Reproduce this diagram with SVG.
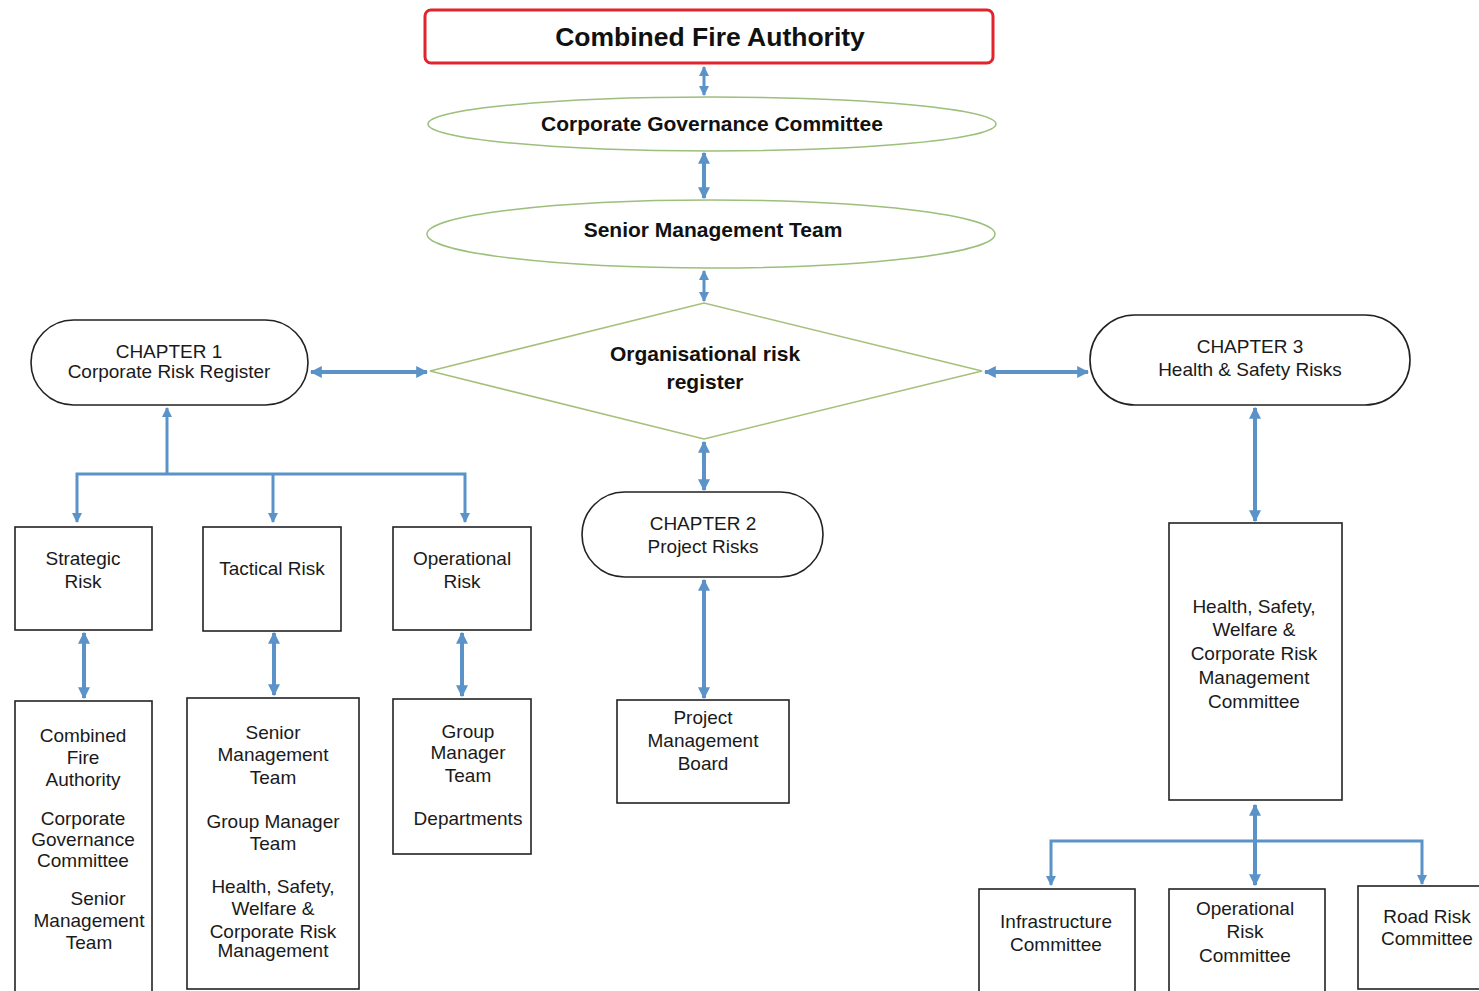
<svg xmlns="http://www.w3.org/2000/svg" width="1479" height="991" viewBox="0 0 1479 991">
<style>
.t{font-family:"Liberation Sans",Arial,sans-serif;font-size:19px;fill:#1a1a1a;text-anchor:middle}
.b{font-family:"Liberation Sans",Arial,sans-serif;font-weight:bold;font-size:21px;fill:#111;text-anchor:middle}
.box{fill:#fff;stroke:#222;stroke-width:1.6}
.oval{fill:#fff;stroke:#9dbf7c;stroke-width:1.5}
.c{fill:none;stroke:#5b93c9;stroke-width:3}
.ct{fill:none;stroke:#5b93c9;stroke-width:4}
</style>
<defs>
<marker id="ah" viewBox="0 0 10 10" refX="9" refY="5" markerUnits="userSpaceOnUse" markerWidth="12" markerHeight="12" orient="auto-start-reverse">
<path d="M0,0 L10,5 L0,10 z" fill="#5b93c9"/>
</marker>
<marker id="ahs" viewBox="0 0 10 10" refX="9" refY="5" markerUnits="userSpaceOnUse" markerWidth="10" markerHeight="11" orient="auto-start-reverse">
<path d="M0,0 L10,5 L0,10 z" fill="#5b93c9"/>
</marker>
</defs>
<rect width="1479" height="991" fill="#fff"/>

<g id="connectors">
<line class="c" x1="704" y1="67" x2="704" y2="95" marker-start="url(#ahs)" marker-end="url(#ahs)"/>
<line class="ct" x1="704" y1="153" x2="704" y2="198" marker-start="url(#ah)" marker-end="url(#ah)"/>
<line class="c" x1="704" y1="271" x2="704" y2="301" marker-start="url(#ahs)" marker-end="url(#ahs)"/>
<line class="ct" x1="311" y1="372" x2="427" y2="372" marker-start="url(#ah)" marker-end="url(#ah)"/>
<line class="ct" x1="985" y1="372" x2="1088" y2="372" marker-start="url(#ah)" marker-end="url(#ah)"/>
<line class="ct" x1="704" y1="442" x2="704" y2="490" marker-start="url(#ah)" marker-end="url(#ah)"/>
<line class="ct" x1="704" y1="580" x2="704" y2="698" marker-start="url(#ah)" marker-end="url(#ah)"/>
<line class="c" x1="167" y1="474" x2="167" y2="408" marker-end="url(#ahs)"/>
<path class="c" d="M77,522 V474 H465 V522" marker-start="url(#ahs)" marker-end="url(#ahs)"/>
<line class="c" x1="273" y1="474" x2="273" y2="522" marker-end="url(#ahs)"/>
<line class="ct" x1="84" y1="633" x2="84" y2="698" marker-start="url(#ah)" marker-end="url(#ah)"/>
<line class="ct" x1="274" y1="633" x2="274" y2="695" marker-start="url(#ah)" marker-end="url(#ah)"/>
<line class="ct" x1="462" y1="633" x2="462" y2="696" marker-start="url(#ah)" marker-end="url(#ah)"/>
<line class="ct" x1="1255" y1="408" x2="1255" y2="521" marker-start="url(#ah)" marker-end="url(#ah)"/>
<line class="ct" x1="1255" y1="805" x2="1255" y2="885" marker-start="url(#ah)" marker-end="url(#ah)"/>
<path class="c" d="M1051,885 V841 H1422 V884" marker-start="url(#ahs)" marker-end="url(#ahs)"/>
</g>

<g id="cfa">
<rect x="425" y="10" width="568" height="53" rx="6" fill="#fff" stroke="#e0232d" stroke-width="3"/>
<text class="b" x="710" y="46" style="font-size:26.5px">Combined Fire Authority</text>
</g>
<g id="cgc">
<ellipse class="oval" cx="712" cy="124" rx="284" ry="27"/>
<text class="b" x="712" y="131">Corporate Governance Committee</text>
</g>
<g id="smt">
<ellipse class="oval" cx="711" cy="234" rx="284" ry="34"/>
<text class="b" x="713" y="237">Senior Management Team</text>
</g>
<g id="orr">
<polygon points="430,371 704,303 982,371 704,439" fill="#fff" stroke="#a6c07c" stroke-width="1.5"/>
<text class="b" x="705" y="361">Organisational risk</text>
<text class="b" x="705" y="389">register</text>
</g>
<g id="ch1">
<rect class="box" x="31" y="320" width="277" height="85" rx="42.5"/>
<text class="t" x="169" y="358">CHAPTER 1</text>
<text class="t" x="169" y="378">Corporate Risk Register</text>
</g>
<g id="ch3">
<rect class="box" x="1090" y="315" width="320" height="90" rx="45"/>
<text class="t" x="1250" y="353">CHAPTER 3</text>
<text class="t" x="1250" y="376">Health &amp; Safety Risks</text>
</g>
<g id="ch2">
<rect class="box" x="582" y="492" width="241" height="85" rx="42.5"/>
<text class="t" x="703" y="530">CHAPTER 2</text>
<text class="t" x="703" y="553">Project Risks</text>
</g>
<g id="pmb">
<rect class="box" x="617" y="700" width="172" height="103"/>
<text class="t" x="703" y="724">Project</text>
<text class="t" x="703" y="747">Management</text>
<text class="t" x="703" y="770">Board</text>
</g>
<g id="strategic">
<rect class="box" x="15" y="527" width="137" height="103"/>
<text class="t" x="83" y="565">Strategic</text>
<text class="t" x="83" y="588">Risk</text>
</g>
<g id="tactical">
<rect class="box" x="203" y="527" width="138" height="104"/>
<text class="t" x="272" y="575">Tactical Risk</text>
</g>
<g id="operational">
<rect class="box" x="393" y="527" width="138" height="103"/>
<text class="t" x="462" y="565">Operational</text>
<text class="t" x="462" y="588">Risk</text>
</g>
<g id="strategic-owners">
<rect class="box" x="15" y="701" width="137" height="300"/>
<text class="t" x="83" y="742">Combined</text>
<text class="t" x="83" y="764">Fire</text>
<text class="t" x="83" y="786">Authority</text>
<text class="t" x="83" y="825">Corporate</text>
<text class="t" x="83" y="846">Governance</text>
<text class="t" x="83" y="867">Committee</text>
<text class="t" x="98" y="905">Senior</text>
<text class="t" x="89" y="927">Management</text>
<text class="t" x="89" y="949">Team</text>
</g>
<g id="tactical-owners">
<rect class="box" x="187" y="698" width="172" height="291"/>
<text class="t" x="273" y="739">Senior</text>
<text class="t" x="273" y="761">Management</text>
<text class="t" x="273" y="784">Team</text>
<text class="t" x="273" y="828">Group Manager</text>
<text class="t" x="273" y="850">Team</text>
<text class="t" x="273" y="893">Health, Safety,</text>
<text class="t" x="273" y="915">Welfare &amp;</text>
<text class="t" x="273" y="938">Corporate Risk</text>
<text class="t" x="273" y="957">Management</text>
</g>
<g id="operational-owners">
<rect class="box" x="393" y="699" width="138" height="155"/>
<text class="t" x="468" y="738">Group</text>
<text class="t" x="468" y="759">Manager</text>
<text class="t" x="468" y="782">Team</text>
<text class="t" x="468" y="825">Departments</text>
</g>
<g id="hswcrm">
<rect class="box" x="1169" y="523" width="173" height="277"/>
<text class="t" x="1254" y="613">Health, Safety,</text>
<text class="t" x="1254" y="636">Welfare &amp;</text>
<text class="t" x="1254" y="660">Corporate Risk</text>
<text class="t" x="1254" y="684">Management</text>
<text class="t" x="1254" y="708">Committee</text>
</g>
<g id="infrastructure">
<rect class="box" x="979" y="889" width="156" height="110"/>
<text class="t" x="1056" y="928">Infrastructure</text>
<text class="t" x="1056" y="951">Committee</text>
</g>
<g id="orc">
<rect class="box" x="1169" y="889" width="156" height="110"/>
<text class="t" x="1245" y="915">Operational</text>
<text class="t" x="1245" y="938">Risk</text>
<text class="t" x="1245" y="962">Committee</text>
</g>
<g id="road">
<rect class="box" x="1358" y="886" width="130" height="103"/>
<text class="t" x="1427" y="923">Road Risk</text>
<text class="t" x="1427" y="945">Committee</text>
</g>
</svg>
